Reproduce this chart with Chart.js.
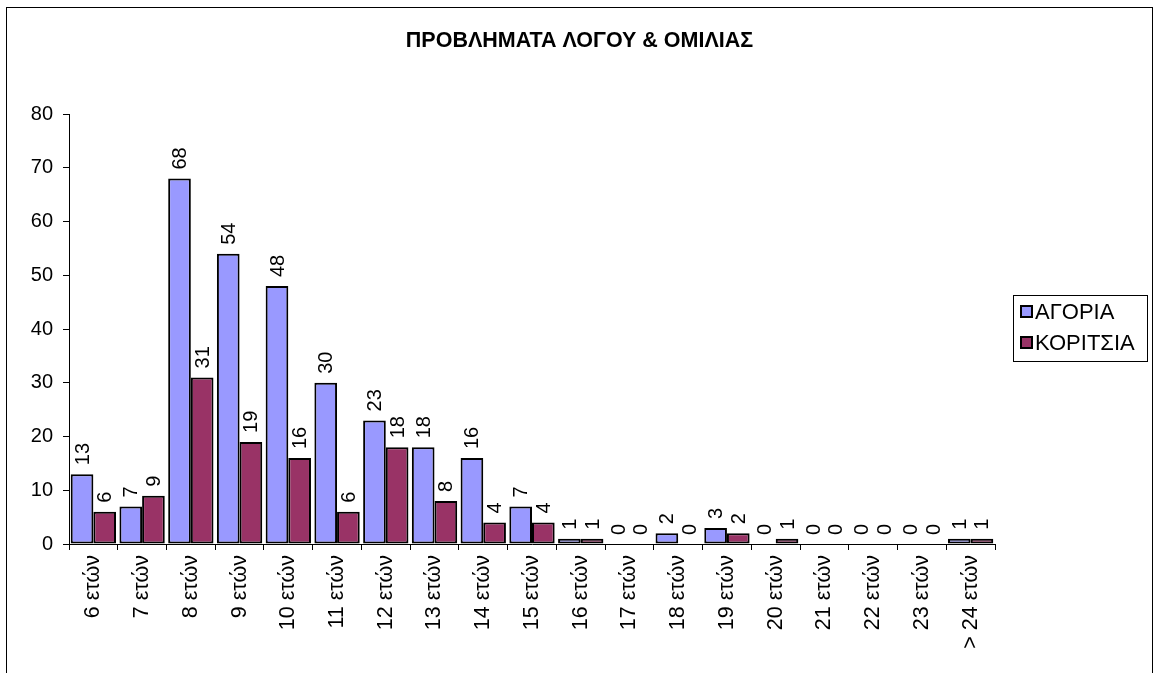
<!DOCTYPE html>
<html><head><meta charset="utf-8">
<script src="https://cdn.jsdelivr.net/npm/chart.js@4"></script>
<style>html,body{margin:0;padding:0;background:#fff}#wrap{width:1154px;height:673px;position:relative}</style>
</head><body><div id="wrap"><canvas id="c" width="1154" height="673"></canvas></div>
<script>
const chartTitle = 'ΠΡΟΒΛΗΜΑΤΑ ΛΟΓΟΥ & ΟΜΙΛΙΑΣ';
const categories = ['6 ετών','7 ετών','8 ετών','9 ετών','10 ετών','11 ετών','12 ετών','13 ετών','14 ετών','15 ετών','16 ετών','17 ετών','18 ετών','19 ετών','20 ετών','21 ετών','22 ετών','23 ετών','> 24 ετών'];
const seriesNames = ['ΑΓΟΡΙΑ','ΚΟΡΙΤΣΙΑ'];
const boys  = [13,7,68,54,48,30,23,18,16,7,1,0,2,3,0,0,0,0,1];
const girls = [6,9,31,19,16,6,18,8,4,4,1,0,0,2,1,0,0,0,1];
const yTicks = [0,10,20,30,40,50,60,70,80];
const colors = ['#9999FF','#993366'];
const FONT = "'Liberation Sans', Arial, sans-serif";

const decor = {
  id: 'decor',
  beforeDraw(chart) {
    const ctx = chart.ctx;
    ctx.save();
    ctx.fillStyle = '#fff';
    ctx.fillRect(0,0,chart.width,chart.height);
    ctx.strokeStyle = '#000';
    ctx.lineWidth = 1;
    ctx.strokeRect(6.5, 7.5, 1146, 700);
    ctx.restore();
  },
  afterDraw(chart) {
    const ctx = chart.ctx;
    ctx.save();
    ctx.fillStyle = '#000';
    ctx.font = 'bold 21.5px ' + FONT;
    ctx.textAlign = 'center';
    ctx.textBaseline = 'alphabetic';
    ctx.fillText(chartTitle, 579.5, 47);
    ctx.strokeStyle = '#000';
    ctx.lineWidth = 1;
    ctx.strokeRect(1013.5, 295.5, 134, 66);
    ctx.font = '22px ' + FONT;
    ctx.textAlign = 'left';
    ctx.textBaseline = 'middle';
    seriesNames.forEach((n, i) => {
      const cy = 312 + i * 31;
      ctx.fillStyle = colors[i];
      ctx.fillRect(1021, cy - 6, 11, 11);
      ctx.lineWidth = 2;
      ctx.strokeRect(1021, cy - 6, 11, 11);
      ctx.fillStyle = '#000';
      ctx.fillText(n, 1035, cy + 1);
    });
    ctx.restore();
  },
  afterDatasetsDraw(chart) {
    const ctx = chart.ctx;
    ctx.save();
    ctx.fillStyle = '#000';
    ctx.font = '20px ' + FONT;
    ctx.textAlign = 'left';
    ctx.textBaseline = 'middle';
    chart.data.datasets.forEach((ds, di) => {
      const meta = chart.getDatasetMeta(di);
      meta.data.forEach((el, i) => {
        ctx.save();
        ctx.translate(el.x + 1, el.y - 9);
        ctx.rotate(-Math.PI / 2);
        ctx.fillText(String(ds.data[i]), 0, 0);
        ctx.restore();
      });
    });
    ctx.restore();
  }
};

new Chart(document.getElementById('c'), {
  type: 'bar',
  data: {
    labels: categories,
    datasets: [
      { label: seriesNames[0], data: boys, backgroundColor: colors[0], borderColor: '#000',
        borderWidth: c => (c.raw === 0 ? 0 : 2), borderSkipped: false },
      { label: seriesNames[1], data: girls, backgroundColor: colors[1], borderColor: '#000',
        borderWidth: c => (c.raw === 0 ? 0 : 2), borderSkipped: false }
    ]
  },
  options: {
    responsive: false,
    animation: false,
    devicePixelRatio: 1,
    layout: { padding: { left: 6, right: 159, top: 114, bottom: 0 } },
    datasets: { bar: { categoryPercentage: 0.93, barPercentage: 1.0 } },
    plugins: { legend: { display: false }, title: { display: false }, tooltip: { enabled: false } },
    scales: {
      x: {
        grid: { offset: true, drawOnChartArea: false, drawTicks: true, tickLength: 6, color: '#000' },
        border: { color: '#000', width: 1 },
        ticks: { color: '#000', font: { family: FONT, size: 21.5 }, minRotation: 90, maxRotation: 90, padding: 5, autoSkip: false },
        afterFit: s => { s.height = 129; }
      },
      y: {
        min: 0, max: 80,
        afterBuildTicks: s => { s.ticks = yTicks.map(v => ({ value: v })); },
        grid: { drawOnChartArea: false, drawTicks: true, tickLength: 6, color: '#000' },
        border: { color: '#000', width: 1 },
        ticks: { color: '#000', font: { family: FONT, size: 20 }, padding: 10 },
        afterFit: s => { s.width = 63; }
      }
    }
  },
  plugins: [decor]
});
</script></body></html>
